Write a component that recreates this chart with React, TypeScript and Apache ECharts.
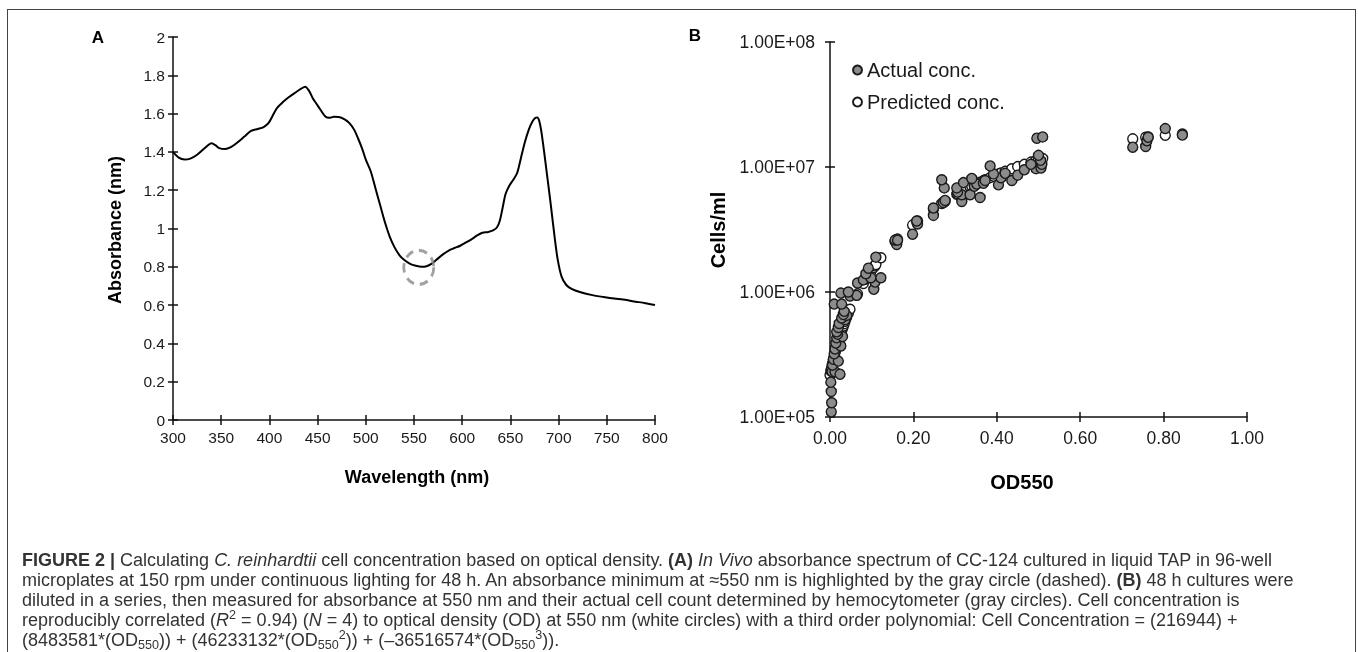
import React, { useEffect, useRef } from "react";
import * as echarts from "echarts";

// ---------- Panel A: absorbance spectrum ----------
const wavelengths = [
  300, 306, 312, 318, 325, 333, 340, 344, 348, 354, 360, 367, 374, 381, 388, 394, 399, 404, 408, 414,
  420, 427, 433, 437, 441, 445, 449, 453, 458, 462, 467, 472, 478, 483, 488, 492, 496, 500, 505, 510,
  515, 520, 525, 530, 535, 540, 546, 552, 558, 563, 568, 574, 580, 586, 592, 598, 604, 610, 616, 621,
  627, 632, 636, 639, 642, 645, 649, 653, 657, 661, 665, 669, 673, 676, 678, 680, 682, 685, 688, 692,
  696, 699, 703, 708, 714, 722, 735, 750, 765, 780, 790, 800,
];
const absorbance = [
  1.4, 1.37, 1.36, 1.365, 1.385, 1.42, 1.445, 1.435, 1.42, 1.415, 1.425, 1.45, 1.48, 1.51, 1.52, 1.53, 1.55, 1.595, 1.63, 1.66,
  1.685, 1.71, 1.73, 1.74, 1.72, 1.68, 1.65, 1.62, 1.585, 1.578, 1.583, 1.582, 1.57, 1.55, 1.515, 1.47, 1.42, 1.36, 1.3, 1.21,
  1.12, 1.03, 0.955, 0.9, 0.86, 0.835, 0.815, 0.805, 0.8, 0.803, 0.815, 0.84, 0.865, 0.885, 0.898, 0.91, 0.927, 0.945, 0.965, 0.978,
  0.982, 0.99, 1.005, 1.04, 1.11, 1.18, 1.225, 1.255, 1.29, 1.37, 1.45, 1.515, 1.56, 1.578, 1.58, 1.56, 1.51, 1.4, 1.28, 1.12,
  0.95, 0.84, 0.75, 0.705, 0.683, 0.668, 0.652, 0.64, 0.63, 0.618, 0.61, 0.6,
];
const minimumWavelength = [555];
const minimumAbsorbance = [0.797];

// ---------- Panel B: cell concentration vs OD550 ----------
const odActual = [
  0.003, 0.004, 0.003, 0.002, 0.005, 0.012, 0.024, 0.006, 0.008, 0.02, 0.01, 0.012, 0.026, 0.014, 0.016, 0.03, 0.018, 0.016,
  0.02, 0.022, 0.036, 0.028, 0.04, 0.032, 0.034, 0.01, 0.028, 0.048, 0.064, 0.026, 0.044, 0.105, 0.066, 0.108, 0.08, 0.098,
  0.122, 0.086, 0.092, 0.11, 0.16, 0.156, 0.162, 0.198, 0.21, 0.208, 0.248, 0.248, 0.272, 0.316, 0.276, 0.36, 0.316, 0.336,
  0.306, 0.274, 0.304, 0.346, 0.404, 0.352, 0.368, 0.32, 0.372, 0.436, 0.268, 0.34, 0.41, 0.45, 0.392, 0.42, 0.466, 0.494,
  0.506, 0.384, 0.482, 0.508, 0.505, 0.5, 0.496, 0.51, 0.726, 0.757, 0.76, 0.763, 0.804, 0.845,
];
const cellsActual = [
  1.1e5, 1.3e5, 1.6e5, 1.9e5, 2.3e5, 2.3e5, 2.2e5, 2.6e5, 2.9e5, 2.8e5, 3.2e5, 3.5e5, 3.7e5, 3.9e5, 4.3e5, 4.4e5, 4.6e5, 4.8e5,
  5.2e5, 5.6e5, 6.0e5, 6.2e5, 6.5e5, 6.6e5, 7.0e5, 8.0e5, 8.0e5, 9.3e5, 9.4e5, 9.8e5, 1.0e6, 1.05e6, 1.18e6, 1.2e6, 1.25e6, 1.3e6,
  1.3e6, 1.4e6, 1.55e6, 1.9e6, 2.4e6, 2.6e6, 2.6e6, 2.9e6, 3.5e6, 3.7e6, 4.1e6, 4.7e6, 5.2e6, 5.3e6, 5.4e6, 5.7e6, 6.0e6, 6.0e6,
  6.3e6, 6.8e6, 6.8e6, 7.0e6, 7.2e6, 7.3e6, 7.4e6, 7.5e6, 7.8e6, 7.8e6, 7.9e6, 8.1e6, 8.2e6, 8.6e6, 8.8e6, 8.9e6, 9.5e6, 9.7e6,
  9.8e6, 1.02e7, 1.05e7, 1.05e7, 1.13e7, 1.24e7, 1.7e7, 1.74e7, 1.44e7, 1.46e7, 1.62e7, 1.73e7, 2.03e7, 1.8e7,
];
const odPredicted = [
  0.0, 0.002, 0.003, 0.005, 0.006, 0.008, 0.01, 0.012, 0.014, 0.016, 0.018, 0.02, 0.022, 0.024, 0.026, 0.028, 0.03, 0.032,
  0.034, 0.036, 0.04, 0.044, 0.048, 0.064, 0.066, 0.08, 0.086, 0.092, 0.098, 0.105, 0.108, 0.11, 0.122, 0.156, 0.16, 0.162,
  0.198, 0.208, 0.21, 0.248, 0.268, 0.272, 0.274, 0.276, 0.304, 0.306, 0.316, 0.32, 0.336, 0.34, 0.346, 0.352, 0.36, 0.368,
  0.372, 0.384, 0.392, 0.404, 0.41, 0.42, 0.436, 0.45, 0.466, 0.482, 0.494, 0.5, 0.505, 0.51, 0.726, 0.757, 0.763, 0.804, 0.845,
];
const cellsPredicted = [
  2.17e5, 2.34e5, 2.42e5, 2.61e5, 2.7e5, 2.9e5, 3.06e5, 3.25e5, 3.45e5, 3.65e5, 3.85e5, 4.05e5, 4.25e5, 4.46e5, 4.67e5, 4.89e5, 5.12e5, 5.35e5,
  5.58e5, 5.82e5, 6.28e5, 6.77e5, 7.27e5, 9.4e5, 9.67e5, 1.17e6, 1.27e6, 1.36e6, 1.46e6, 1.57e6, 1.62e6, 1.66e6, 1.88e6, 2.53e6, 2.61e6, 2.65e6,
  3.43e6, 3.65e6, 3.7e6, 4.61e6, 5.11e6, 5.21e6, 5.26e6, 5.31e6, 6.04e6, 6.1e6, 6.36e6, 6.47e6, 6.9e6, 7.0e6, 7.18e6, 7.34e6, 7.56e6, 7.78e6,
  7.89e6, 8.22e6, 8.45e6, 8.78e6, 8.95e6, 9.23e6, 9.68e6, 1.007e7, 1.05e7, 1.095e7, 1.128e7, 1.145e7, 1.16e7, 1.17e7, 1.68e7, 1.73e7, 1.74e7, 1.795e7, 1.836e7,
];

const FONT = "'Liberation Sans', Arial, Helvetica, sans-serif";
const AXIS_COLOR = "#111";

function sciLabel(v: number): string {
  const exp = Math.round(Math.log10(v));
  const mant = v / Math.pow(10, exp);
  const e = (exp < 10 ? "0" : "") + exp;
  return mant.toFixed(2) + "E+" + e;
}

function axisPair(base: any, labelOpts: any) {
  const outer = {
    ...base,
    axisLine: { show: true, onZero: false, lineStyle: { color: AXIS_COLOR, width: 1.5 } },
    axisTick: { show: true, inside: false, length: 5, lineStyle: { color: AXIS_COLOR, width: 1.5 } },
    axisLabel: { color: "#1a1a1a", fontSize: 15.5, fontFamily: FONT, ...labelOpts },
    splitLine: { show: false },
  };
  const inner = {
    ...base,
    axisLine: { show: false, onZero: false },
    axisTick: { show: true, inside: true, length: 5, lineStyle: { color: AXIS_COLOR, width: 1.5 } },
    axisLabel: { show: false },
    splitLine: { show: false },
  };
  return [outer, inner];
}

export default function App() {
  const ref = useRef<HTMLDivElement>(null);

  useEffect(() => {
    const chart = echarts.init(ref.current!, null, { renderer: "svg" });
    const spectrum = wavelengths.map((w, i) => [w, absorbance[i]]);
    const minimum = minimumWavelength.map((w, i) => [w, minimumAbsorbance[i]]);
    const actual = odActual.map((x, i) => [x, cellsActual[i]]);
    const predicted = odPredicted.map((x, i) => [x, cellsPredicted[i]]);

    const xA = axisPair({ type: "value", gridIndex: 0, min: 300, max: 800, interval: 50, position: "bottom" }, { margin: 9 });
    const yA = axisPair({ type: "value", gridIndex: 0, min: 0, max: 2, interval: 0.2, position: "left" }, { margin: 8 });
    const xB = axisPair({ type: "value", gridIndex: 1, min: 0, max: 1, interval: 0.2, position: "bottom" }, {
      margin: 12,
      fontSize: 17.5,
      formatter: (v: number) => v.toFixed(2),
    });
    const yB = axisPair({ type: "log", logBase: 10, gridIndex: 1, min: 1e5, max: 1e8, position: "left" }, {
      margin: 15,
      fontSize: 17.5,
      formatter: (v: number) => sciLabel(v),
    });

    const titleFontA = `bold 18px ${FONT}`;
    const titleFontB = `bold 20px ${FONT}`;

    chart.setOption({
      animation: false,
      backgroundColor: "transparent",
      grid: [
        { left: 173, top: 37, width: 482, height: 383, containLabel: false },
        { left: 830, top: 42, width: 417, height: 375, containLabel: false },
      ],
      xAxis: [...xA, ...xB],
      yAxis: [...yA, ...yB],
      legend: {
        data: ["Actual conc.", "Predicted conc."],
        orient: "vertical",
        left: 852,
        top: 59,
        icon: "circle",
        itemWidth: 9,
        itemHeight: 9,
        itemGap: 10,
        padding: 0,
        textStyle: { fontSize: 20, fontFamily: FONT, color: "#1a1a1a", lineHeight: 22 },
      },
      graphic: [
        { type: "text", x: 98, y: 37, style: { text: "A", font: `bold 17px ${FONT}`, fill: "#000", align: "center", verticalAlign: "middle" } },
        { type: "text", x: 695, y: 35, style: { text: "B", font: `bold 17px ${FONT}`, fill: "#000", align: "center", verticalAlign: "middle" } },
        { type: "text", x: 115, y: 230, rotation: Math.PI / 2, style: { text: "Absorbance (nm)", font: titleFontA, fill: "#000", align: "center", verticalAlign: "middle" } },
        { type: "text", x: 417, y: 477, style: { text: "Wavelength (nm)", font: titleFontA, fill: "#000", align: "center", verticalAlign: "middle" } },
        { type: "text", x: 718, y: 230, rotation: Math.PI / 2, style: { text: "Cells/ml", font: titleFontB, fill: "#000", align: "center", verticalAlign: "middle" } },
        { type: "text", x: 1022, y: 482, style: { text: "OD550", font: titleFontB, fill: "#000", align: "center", verticalAlign: "middle" } },
      ],
      series: [
        {
          type: "line",
          xAxisIndex: 0,
          yAxisIndex: 0,
          data: spectrum,
          showSymbol: false,
          smooth: 0.3,
          lineStyle: { color: "#000", width: 2 },
          silent: true,
          z: 3,
        },
        {
          type: "scatter",
          xAxisIndex: 0,
          yAxisIndex: 0,
          data: minimum,
          symbol: "circle",
          symbolSize: [30, 34],
          itemStyle: { color: "rgba(0,0,0,0)", borderColor: "#8a8a8a", borderWidth: 3, borderType: [9, 6] },
          silent: true,
          z: 4,
        },
        {
          name: "Predicted conc.",
          type: "scatter",
          xAxisIndex: 2,
          yAxisIndex: 2,
          data: predicted,
          symbol: "circle",
          symbolSize: 10,
          itemStyle: { color: "#ffffff", borderColor: "#1a1a1a", borderWidth: 1.4, opacity: 1 },
          z: 3,
        },
        {
          name: "Actual conc.",
          type: "scatter",
          xAxisIndex: 2,
          yAxisIndex: 2,
          data: actual,
          symbol: "circle",
          symbolSize: 10,
          itemStyle: { color: "#8c8c8c", borderColor: "#1a1a1a", borderWidth: 1.4, opacity: 1 },
          z: 4,
        },
      ],
    });
    return () => chart.dispose();
  }, []);

  const capStyle: React.CSSProperties = {
    position: "fixed",
    left: 22,
    top: 550,
    fontFamily: FONT,
    fontSize: 18,
    lineHeight: "20px",
    color: "#333",
    whiteSpace: "nowrap",
  };
  const sub: React.CSSProperties = { fontSize: "0.7em", verticalAlign: "-0.25em", lineHeight: 0 };
  const sup: React.CSSProperties = { fontSize: "0.7em", verticalAlign: "0.55em", lineHeight: 0 };

  return (
    <>
      <div
        style={{
          position: "fixed",
          left: 7,
          top: 9,
          width: 1349,
          height: 700,
          boxSizing: "border-box",
          borderTop: "1px solid #444",
          borderLeft: "1px solid #444",
          borderRight: "1px solid #444",
        }}
      />
      <div ref={ref} style={{ position: "fixed", left: 0, top: 0, width: 1358, height: 520 }} />
      <div style={capStyle}>
        <div>
          <b>FIGURE 2 |</b> Calculating <i>C. reinhardtii</i> cell concentration based on optical density. <b>(A)</b>{" "}
          <i>In Vivo</i> absorbance spectrum of CC-124 cultured in liquid TAP in 96-well
        </div>
        <div>
          microplates at 150 rpm under continuous lighting for 48 h. An absorbance minimum at ≈550 nm is highlighted by the gray
          circle (dashed). <b>(B)</b> 48 h cultures were
        </div>
        <div>
          diluted in a series, then measured for absorbance at 550 nm and their actual cell count determined by hemocytometer (gray
          circles). Cell concentration is
        </div>
        <div>
          reproducibly correlated (<i>R</i>
          <span style={sup}>2</span> = 0.94) (<i>N</i> = 4) to optical density (OD) at 550 nm (white circles) with a third order
          polynomial: Cell Concentration = (216944) +
        </div>
        <div>
          (8483581*(OD<span style={sub}>550</span>)) + (46233132*(OD<span style={sub}>550</span>
          <span style={sup}>2</span>)) + (–36516574*(OD<span style={sub}>550</span>
          <span style={sup}>3</span>)).
        </div>
      </div>
    </>
  );
}
